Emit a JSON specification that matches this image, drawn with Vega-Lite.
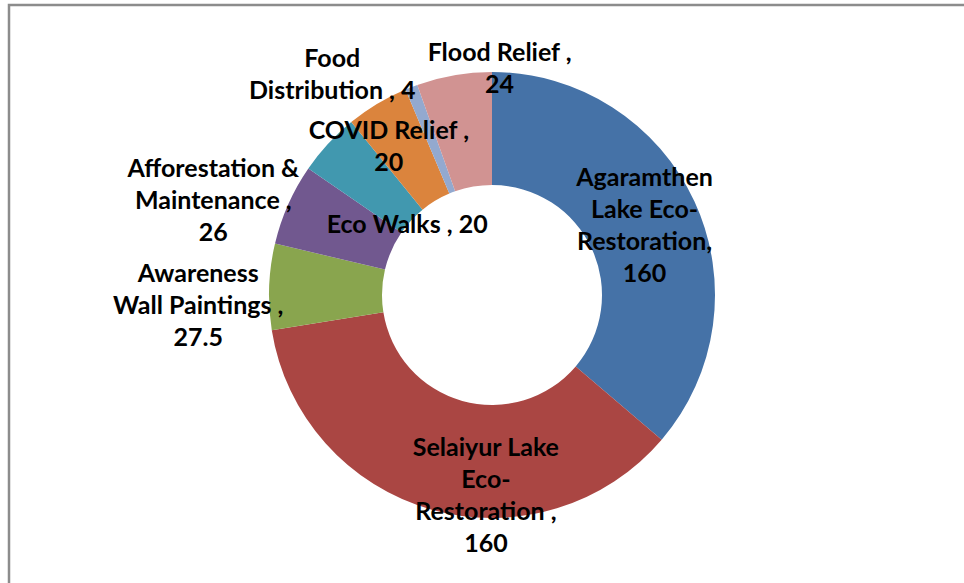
{
  "$schema": "https://vega.github.io/schema/vega-lite/v6.json",
  "width": 961,
  "height": 583,
  "autosize": {"type": "none"},
  "padding": {"left": 9, "top": 5, "right": -6, "bottom": -5},
  "background": "white",
  "config": {
    "view": {"stroke": null},
    "text": {"font": "Lato", "fontSize": 25, "fontWeight": "bold", "fill": "#000000", "lineHeight": 32, "lineBreak": "|", "align": "center", "baseline": "middle"}
  },
  "datasets": {
    "frame": [{"name": "frame"}],
    "slices": [
      {"idx": 1, "cat": "Agaramthen Lake Eco-Restoration", "value": 160, "label": "Agaramthen|Lake Eco-|Restoration,|160"},
      {"idx": 2, "cat": "Selaiyur Lake Eco-Restoration", "value": 160, "label": "Selaiyur Lake|Eco-|Restoration ,|160"},
      {"idx": 3, "cat": "Awareness Wall Paintings", "value": 27.5, "label": "Awareness|Wall Paintings ,|27.5"},
      {"idx": 4, "cat": "Afforestation & Maintenance", "value": 26, "label": "Afforestation &|Maintenance  ,|26"},
      {"idx": 5, "cat": "Eco Walks", "value": 20, "label": "Eco Walks , 20"},
      {"idx": 6, "cat": "COVID Relief", "value": 20, "label": "COVID Relief ,|20"},
      {"idx": 7, "cat": "Food Distribution", "value": 4, "label": "Food|Distribution  , 4"},
      {"idx": 8, "cat": "Flood Relief", "value": 24, "label": "Flood Relief ,|24"}
    ]
  },
  "layer": [
    {
      "data": {"name": "frame"},
      "mark": {"type": "rect", "fill": null, "fillOpacity": 0, "stroke": "#8c8c8c", "strokeWidth": 2.5},
      "encoding": {}
    },
    {
      "data": {"name": "slices"},
      "encoding": {
        "theta": {"field": "value", "type": "quantitative", "stack": true},
        "order": {"field": "idx", "type": "quantitative"},
        "detail": {"field": "cat", "type": "nominal"}
      },
      "layer": [
        {
          "mark": {"type": "arc", "innerRadius": 110, "outerRadius": 223, "xOffset": 2.5, "yOffset": -1.5, "stroke": null},
          "encoding": {
            "color": {
              "field": "cat", "type": "nominal", "legend": null,
              "scale": {
                "domain": ["Agaramthen Lake Eco-Restoration", "Selaiyur Lake Eco-Restoration", "Awareness Wall Paintings", "Afforestation & Maintenance", "Eco Walks", "COVID Relief", "Food Distribution", "Flood Relief"],
                "range": ["#4572A7", "#AA4643", "#89A54E", "#71588F", "#4198AF", "#DB843D", "#93A9CF", "#D19392"]
              }
            }
          }
        },
        {
          "mark": {"type": "text", "radius": 168, "xOffset": 2.5, "yOffset": -1.5, "dx": 0, "dy": -47},
          "encoding": {"text": {"condition": {"test": "datum.idx === 1", "field": "label"}, "value": ""}}
        },
        {
          "mark": {"type": "text", "radius": 200, "xOffset": 2.5, "yOffset": -1.5, "dx": 48, "dy": -40},
          "encoding": {"text": {"condition": {"test": "datum.idx === 2", "field": "label"}, "value": ""}}
        },
        {
          "mark": {"type": "text", "radius": 294, "xOffset": 2.5, "yOffset": -1.5, "dx": 0, "dy": -10},
          "encoding": {"text": {"condition": {"test": "datum.idx === 3", "field": "label"}, "value": ""}}
        },
        {
          "mark": {"type": "text", "radius": 294, "xOffset": 2.5, "yOffset": -1.5, "dx": -10, "dy": -7},
          "encoding": {"text": {"condition": {"test": "datum.idx === 4", "field": "label"}, "value": ""}}
        },
        {
          "mark": {"type": "text", "radius": 110, "xOffset": 2.5, "yOffset": -1.5, "dx": -4, "dy": 5},
          "encoding": {"text": {"condition": {"test": "datum.idx === 5", "field": "label"}, "value": ""}}
        },
        {
          "mark": {"type": "text", "radius": 181, "xOffset": 2.5, "yOffset": -1.5, "dx": -10, "dy": -9},
          "encoding": {"text": {"condition": {"test": "datum.idx === 6", "field": "label"}, "value": ""}}
        },
        {
          "mark": {"type": "text", "radius": 273, "xOffset": 2.5, "yOffset": -1.5, "dx": -61, "dy": 19},
          "encoding": {"text": {"condition": {"test": "datum.idx === 7", "field": "label"}, "value": ""}}
        },
        {
          "mark": {"type": "text", "radius": 226, "xOffset": 2.5, "yOffset": -1.5, "dx": 46, "dy": -19},
          "encoding": {"text": {"condition": {"test": "datum.idx === 8", "field": "label"}, "value": ""}}
        }
      ]
    }
  ]
}
